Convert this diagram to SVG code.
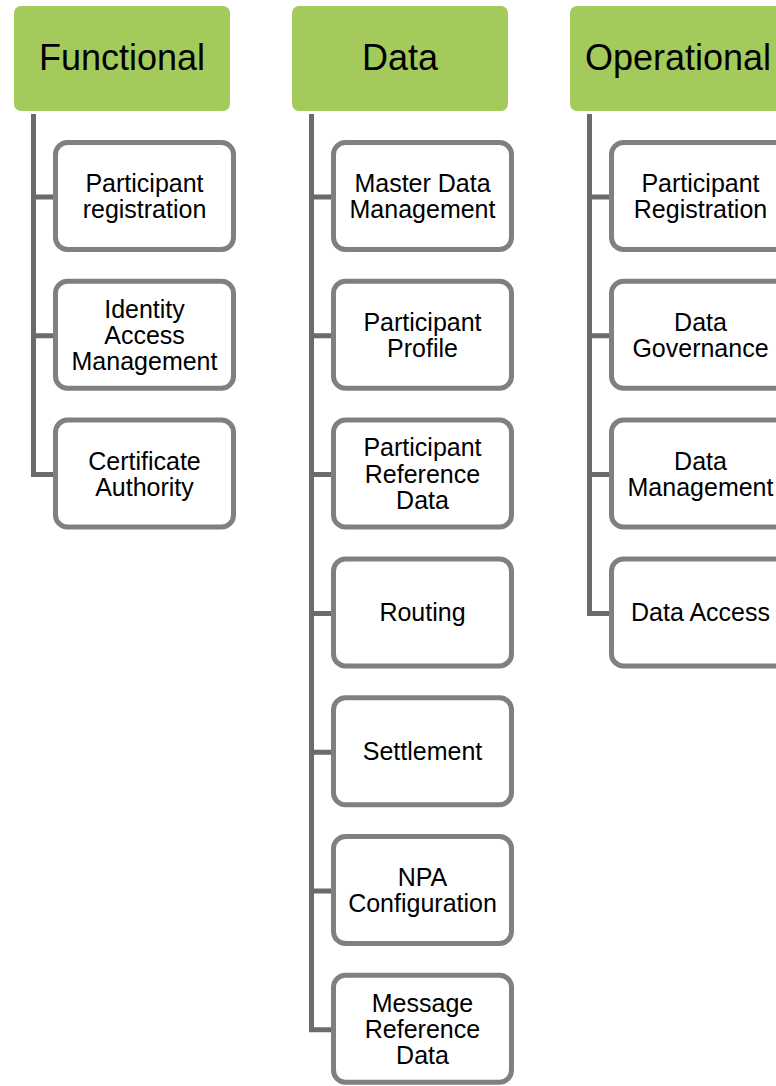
<svg xmlns="http://www.w3.org/2000/svg" width="776" height="1086" viewBox="0 0 776 1086">
  <style>
    .hdr { fill: #a5ca5c; }
    .hdr-t { font-family: "Liberation Sans", Arial, sans-serif; font-size: 36px; fill: #000; text-anchor: middle; }
    .box { fill: #fff; stroke: #808080; stroke-width: 5; }
    .box-t { font-family: "Liberation Sans", Arial, sans-serif; font-size: 25px; fill: #000; text-anchor: middle; }
    .link { fill: none; stroke: #6b6b6b; stroke-width: 5; stroke-linejoin: miter; }
  </style>
  <rect width="776" height="1086" fill="#fff"/>

  <!-- connectors: spine from each header down to its children -->
  <g id="connectors">
    <path class="link" d="M33.5 114 V474.6 H55 M33.5 197 H55 M33.5 335.8 H55"/>
    <path class="link" d="M311.5 114 V1029.8 H333 M311.5 197 H333 M311.5 335.8 H333 M311.5 474.6 H333 M311.5 613.4 H333 M311.5 752.2 H333 M311.5 891 H333"/>
    <path class="link" d="M589.5 114 V613.4 H611 M589.5 197 H611 M589.5 335.8 H611 M589.5 474.6 H611"/>
  </g>

  <!-- Functional column -->
  <g id="functional">
    <rect class="hdr" x="14" y="6" width="216" height="105" rx="7"/>
    <text class="hdr-t" x="122" y="70">Functional</text>
  </g>
  <g id="f-participant-registration">
    <rect class="box" x="55.5" y="142.5" width="178" height="107" rx="12"/>
    <text class="box-t" x="144.5" y="191.9">Participant</text>
    <text class="box-t" x="144.5" y="218.1">registration</text>
  </g>
  <g id="f-identity-access-management">
    <rect class="box" x="55.5" y="281.3" width="178" height="107" rx="12"/>
    <text class="box-t" x="144.5" y="317.6">Identity</text>
    <text class="box-t" x="144.5" y="343.8">Access</text>
    <text class="box-t" x="144.5" y="370">Management</text>
  </g>
  <g id="f-certificate-authority">
    <rect class="box" x="55.5" y="420.1" width="178" height="107" rx="12"/>
    <text class="box-t" x="144.5" y="469.5">Certificate</text>
    <text class="box-t" x="144.5" y="495.7">Authority</text>
  </g>

  <!-- Data column -->
  <g id="data">
    <rect class="hdr" x="292" y="6" width="216" height="105" rx="7"/>
    <text class="hdr-t" x="400" y="70">Data</text>
  </g>
  <g id="d-master-data-management">
    <rect class="box" x="333.5" y="142.5" width="178" height="107" rx="12"/>
    <text class="box-t" x="422.5" y="191.9">Master Data</text>
    <text class="box-t" x="422.5" y="218.1">Management</text>
  </g>
  <g id="d-participant-profile">
    <rect class="box" x="333.5" y="281.3" width="178" height="107" rx="12"/>
    <text class="box-t" x="422.5" y="330.7">Participant</text>
    <text class="box-t" x="422.5" y="356.9">Profile</text>
  </g>
  <g id="d-participant-reference-data">
    <rect class="box" x="333.5" y="420.1" width="178" height="107" rx="12"/>
    <text class="box-t" x="422.5" y="456.4">Participant</text>
    <text class="box-t" x="422.5" y="482.6">Reference</text>
    <text class="box-t" x="422.5" y="508.8">Data</text>
  </g>
  <g id="d-routing">
    <rect class="box" x="333.5" y="558.9" width="178" height="107" rx="12"/>
    <text class="box-t" x="422.5" y="621.4">Routing</text>
  </g>
  <g id="d-settlement">
    <rect class="box" x="333.5" y="697.7" width="178" height="107" rx="12"/>
    <text class="box-t" x="422.5" y="760.2">Settlement</text>
  </g>
  <g id="d-npa-configuration">
    <rect class="box" x="333.5" y="836.5" width="178" height="107" rx="12"/>
    <text class="box-t" x="422.5" y="885.9">NPA</text>
    <text class="box-t" x="422.5" y="912.1">Configuration</text>
  </g>
  <g id="d-message-reference-data">
    <rect class="box" x="333.5" y="975.3" width="178" height="107" rx="12"/>
    <text class="box-t" x="422.5" y="1011.6">Message</text>
    <text class="box-t" x="422.5" y="1037.8">Reference</text>
    <text class="box-t" x="422.5" y="1064">Data</text>
  </g>

  <!-- Operational column -->
  <g id="operational">
    <rect class="hdr" x="570" y="6" width="216" height="105" rx="7"/>
    <text class="hdr-t" x="678" y="70">Operational</text>
  </g>
  <g id="o-participant-registration">
    <rect class="box" x="611.5" y="142.5" width="178" height="107" rx="12"/>
    <text class="box-t" x="700.5" y="191.9">Participant</text>
    <text class="box-t" x="700.5" y="218.1">Registration</text>
  </g>
  <g id="o-data-governance">
    <rect class="box" x="611.5" y="281.3" width="178" height="107" rx="12"/>
    <text class="box-t" x="700.5" y="330.7">Data</text>
    <text class="box-t" x="700.5" y="356.9">Governance</text>
  </g>
  <g id="o-data-management">
    <rect class="box" x="611.5" y="420.1" width="178" height="107" rx="12"/>
    <text class="box-t" x="700.5" y="469.5">Data</text>
    <text class="box-t" x="700.5" y="495.7">Management</text>
  </g>
  <g id="o-data-access">
    <rect class="box" x="611.5" y="558.9" width="178" height="107" rx="12"/>
    <text class="box-t" x="700.5" y="621.4">Data Access</text>
  </g>
</svg>
